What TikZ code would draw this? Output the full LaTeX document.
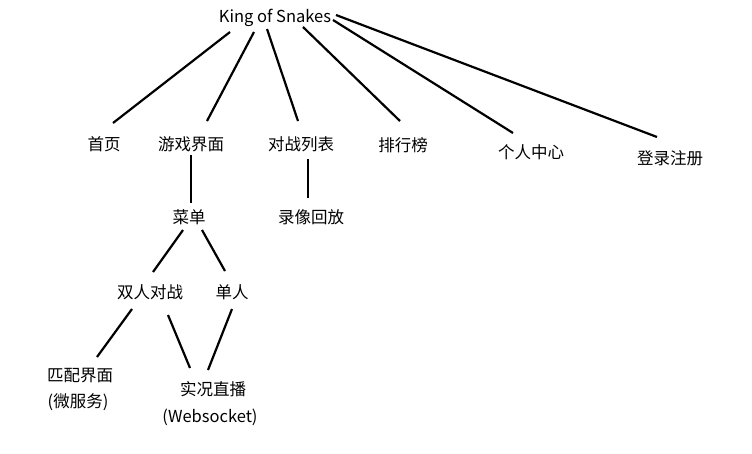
\documentclass[tikz,border=0pt]{standalone}
\usepackage{fontspec}
\setmainfont{Noto Sans CJK SC}
\usepackage{tikz}
\usetikzlibrary{positioning}
\tikzset{
    item/.style={
        font=\fontsize{16.5}{19}\selectfont,
        inner sep=1pt
    },
    branch/.style={
        line width=2.2pt,
        color=black
    }
}
\begin{document}
\begin{tikzpicture}[x=1pt,y=-1pt]

    \useasboundingbox[fill=white] (0,0) rectangle (752,453);

    % Nodes
    \node[item] (king) at (275,18) {King of Snakes};

    \node[item] (home)   at (104,144) {首页};
    \node[item] (game)   at (191,144) {游戏界面};
    \node[item] (list)   at (301,144) {对战列表};
    \node[item] (rank)   at (403,145) {排行榜};
    \node[item] (user)   at (531,152) {个人中心};
    \node[item] (login)  at (670,158) {登录注册};

    \node[item] (menu)   at (189,217) {菜单};
    \node[item] (replay) at (311,217) {录像回放};

    \node[item] (duo)    at (150,292) {双人对战};
    \node[item] (solo)   at (232,292) {单人};

    \node[item] (match)  at (80,376) {匹配界面};
    \node[item] (matchnote) at (78,402) {(微服务)};
    \node[item] (live)   at (213,389) {实况直播};
    \node[item] (livenote)  at (210,417) {(Websocket)};

    % Line ends
    \coordinate (k1) at (230,32);
    \coordinate (k2) at (254,32);
    \coordinate (k3) at (267,29);
    \coordinate (k4) at (303,27);
    \coordinate (k5) at (333,20);
    \coordinate (k6) at (336,15);

    \coordinate (home-t)  at (113,123);
    \coordinate (game-t)  at (207,121);
    \coordinate (list-t)  at (298,121);
    \coordinate (rank-t)  at (400,121);
    \coordinate (user-t)  at (513,133);
    \coordinate (login-t) at (657,137);

    \coordinate (game-b)   at (191,155);
    \coordinate (menu-t)   at (191,203);
    \coordinate (list-b)   at (308,159);
    \coordinate (replay-t) at (308,198);

    \coordinate (menu-l) at (183,230);
    \coordinate (menu-r) at (202,230);
    \coordinate (duo-t)  at (153,272);
    \coordinate (solo-t) at (225,271);

    \coordinate (duo-l)   at (132,309);
    \coordinate (duo-r)   at (168,315);
    \coordinate (solo-b)  at (232,309);
    \coordinate (match-t) at (97,357);
    \coordinate (live-l)  at (190,368);
    \coordinate (live-r)  at (208,370);

    % Branches
    \draw[branch] (k1) -- (home-t);
    \draw[branch] (k2) -- (game-t);
    \draw[branch] (k3) -- (list-t);
    \draw[branch] (k4) -- (rank-t);
    \draw[branch] (k5) -- (user-t);
    \draw[branch] (k6) -- (login-t);

    \draw[branch] (game-b) -- (menu-t);
    \draw[branch] (list-b) -- (replay-t);

    \draw[branch] (menu-l) -- (duo-t);
    \draw[branch] (menu-r) -- (solo-t);

    \draw[branch] (duo-l) -- (match-t);
    \draw[branch] (duo-r) -- (live-l);
    \draw[branch] (solo-b) -- (live-r);

\end{tikzpicture}
\end{document}
